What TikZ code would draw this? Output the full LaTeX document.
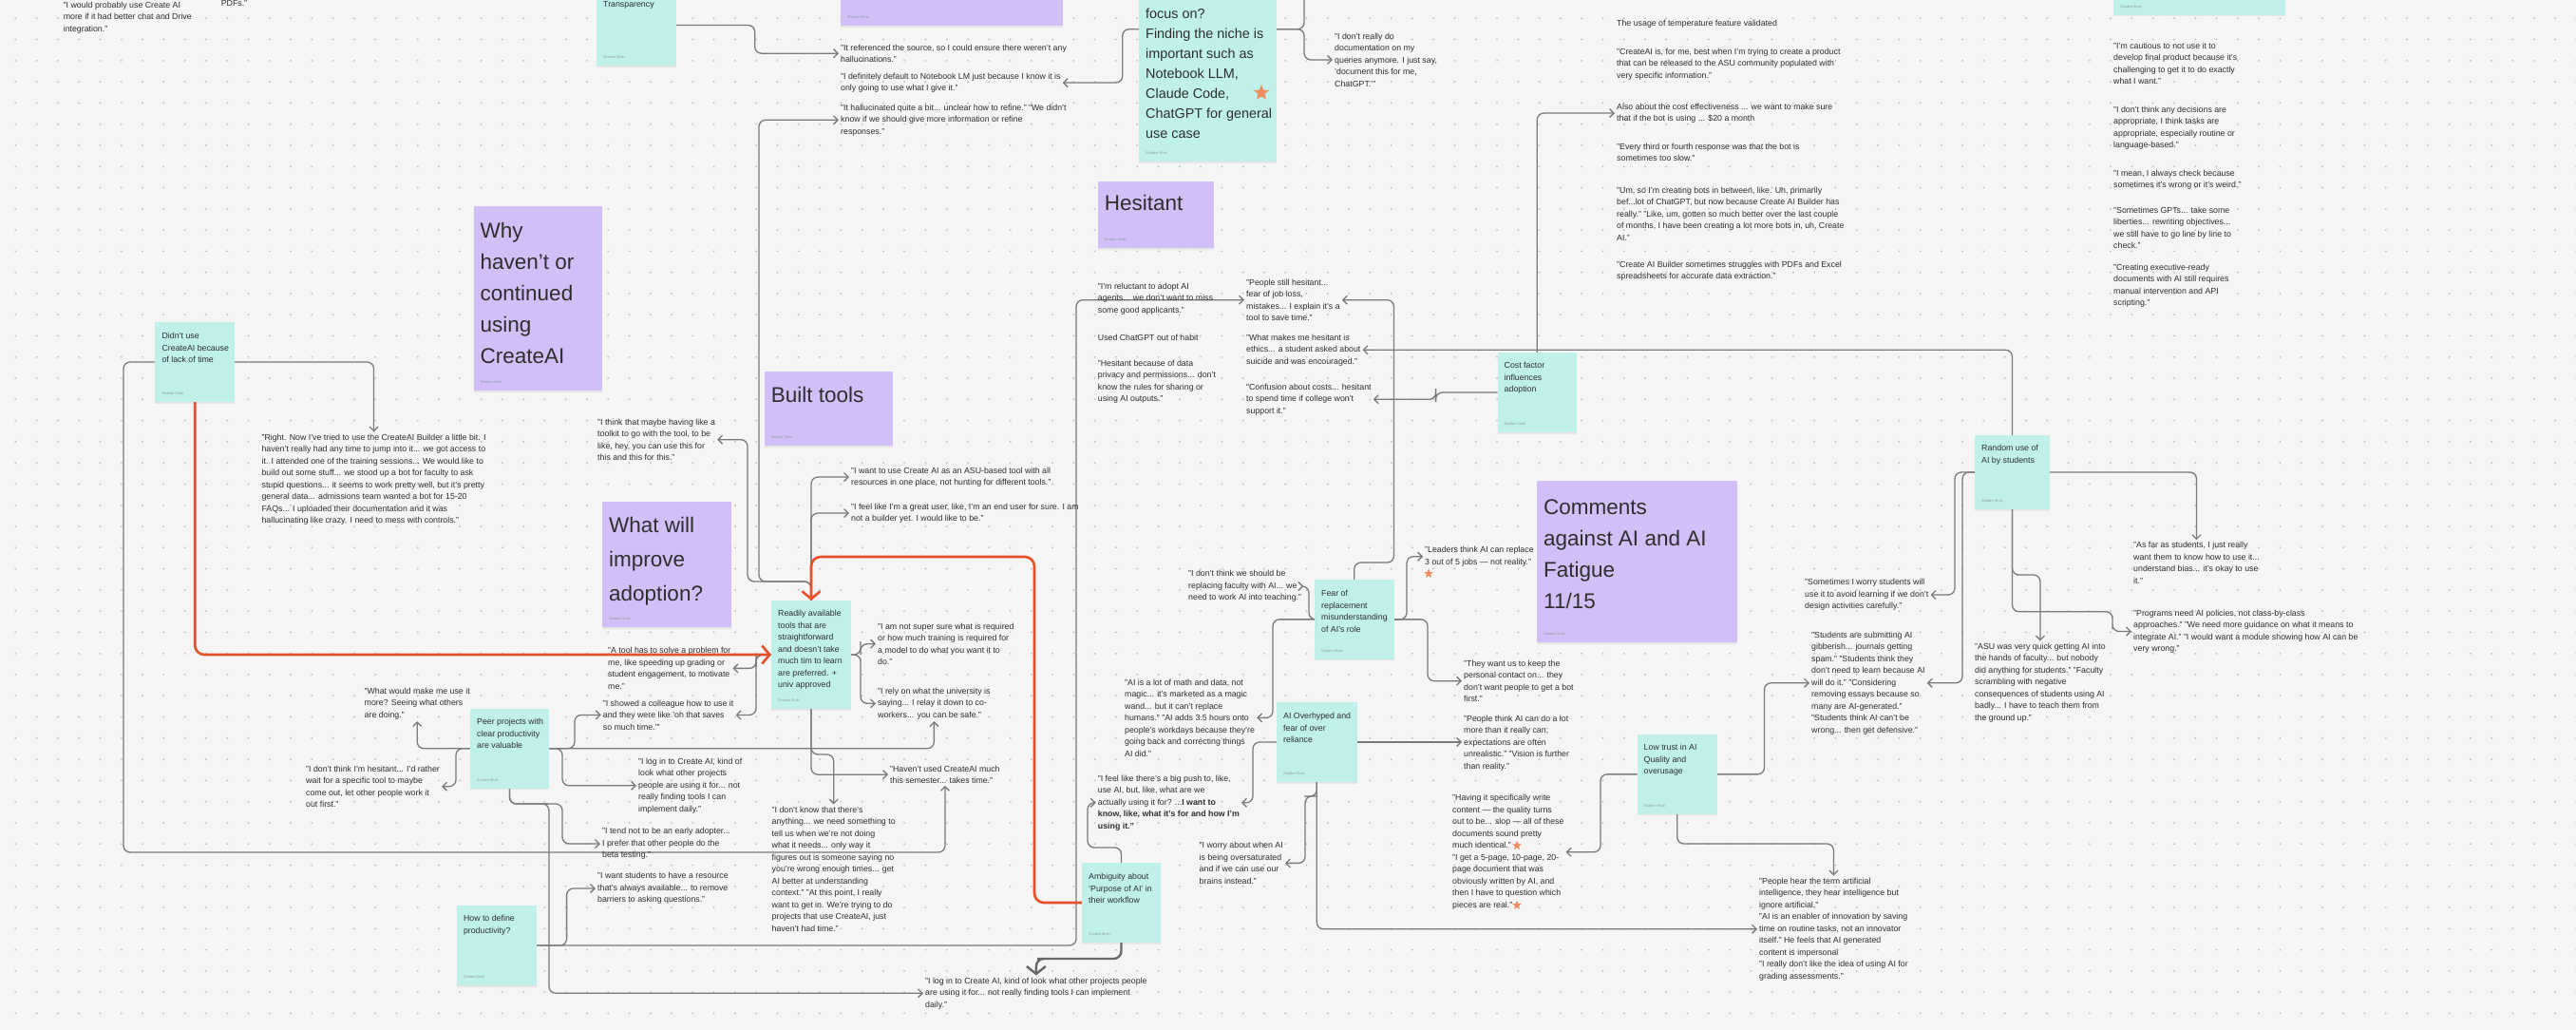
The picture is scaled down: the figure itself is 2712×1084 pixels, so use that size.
\documentclass[tikz,border=0pt]{standalone}
\usepackage{fontspec}
\setmainfont{Liberation Sans}
\usetikzlibrary{arrows.meta,shapes.geometric,shadows}
\definecolor{bgc}{HTML}{F5F5F5}
\definecolor{dotc}{HTML}{C4C4C4}
\definecolor{tealc}{HTML}{C0F0EA}
\definecolor{purpc}{HTML}{D2BFF8}
\definecolor{textc}{HTML}{2E2E2E}
\definecolor{sigc}{HTML}{8C9C9A}
\definecolor{linec}{HTML}{7A7A7A}
\definecolor{orangec}{HTML}{E5502A}
\definecolor{starc}{HTML}{EE8C5E}
\pgfdeclarelayer{bg}\pgfdeclarelayer{lines}\pgfsetlayers{bg,lines,main}
\newcommand\qf{\fontsize{8.8}{12.5}\selectfont}
\newcommand\mknote[9]{%
 \node[#2, minimum width=#5pt, minimum height=#6pt, anchor=north west] (#1) at (#3,#4) {};
 \node[#7, anchor=north west] (#1-t) at ([shift={(7,#8)}]#1.north west) {#9};
 \node[sig, anchor=south west] (#1-s) at ([shift={(7,-7)}]#1.south west) {Shailee Shah};}
\begin{document}
\begin{tikzpicture}[x=1pt,y=-1pt,
  tealnote/.style={fill=tealc, draw=none, inner sep=0pt, outer sep=0pt, drop shadow={shadow xshift=0pt, shadow yshift=-1.5pt, opacity=0.12}},
  purpnote/.style={fill=purpc, draw=none, inner sep=0pt, outer sep=0pt, drop shadow={shadow xshift=0pt, shadow yshift=-1.5pt, opacity=0.12}},
  stext/.style={font=\qf, text=textc, align=left, inner sep=0pt},
  bigtext/.style={font=\fontsize{14.4}{21}\selectfont, text=textc, align=left, inner sep=0pt},
  ptitle/.style={font=\fontsize{22.5}{33}\selectfont, text=textc, align=left, inner sep=0pt},
  ptitleb/.style={font=\fontsize{22.5}{36}\selectfont, text=textc, align=left, inner sep=0pt},
  sig/.style={font=\fontsize{3.8}{4.5}\selectfont, text=sigc, inner sep=0pt},
  quote/.style={font=\qf, text=textc, align=left, inner sep=2pt, anchor=north west, xshift=-2pt, yshift=5.5pt},
  conn/.style={draw=linec, line width=1.3pt, rounded corners=7pt, -{Straight Barb[length=4.5pt,width=9pt]}},
  hot/.style={draw=orangec, line width=2.6pt, rounded corners=10pt, -{Straight Barb[length=8pt,width=19pt]}},
  heavy/.style={draw=linec!85!black, line width=2.4pt, rounded corners=8pt, -{Straight Barb[length=8pt,width=20pt]}},
  starmark/.style={star, star points=5, star point ratio=2.3, fill=starc, draw=none, inner sep=0pt},
]
\useasboundingbox (0,0) rectangle (2712,1084);
\begin{pgfonlayer}{bg}
\fill[bgc] (0,0) rectangle (2712,1084);
\foreach \i in {0,...,121} {\foreach \j in {0,...,48} {\fill[dotc] ({16.4+22.28*\i},{19.3+22.28*\j}) circle (1.1pt);}}
\end{pgfonlayer}

% ---------- sticky notes ----------
\mknote{Ttransp}{tealnote}{628}{-16}{84}{85}{stext}{17}{Transparency}
\mknote{Ptop}{purpnote}{885}{-40}{234}{67}{stext}{10}{}
\mknote{Tfocus}{tealnote}{1199}{-108.6}{145}{278.6}{bigtext}{117.2}{focus on?\\Finding the niche is\\important such as\\Notebook LLM,\\Claude Code,\\ChatGPT for general\\use case}
\mknote{Tright}{tealnote}{2225}{-40}{181}{55.7}{stext}{10}{}
\mknote{Pwhy}{purpnote}{498.5}{217}{135.5}{194}{ptitle}{16.6}{Why\\haven't or\\continued\\using\\CreateAI}
\mknote{Tdidnt}{tealnote}{163.4}{339}{83.6}{84}{stext}{11}{Didn't use\\CreateAI because\\of lack of time}
\mknote{Pwhat}{purpnote}{634}{528}{136}{132}{ptitleb}{15.6}{What will\\improve\\adoption?}
\mknote{Pbuilt}{purpnote}{804.7}{391}{135.3}{78}{ptitle}{15.6}{Built tools}
\mknote{Readily}{tealnote}{812}{632}{84}{114}{stext}{10}{Readily available\\tools that are\\straightforward\\and doesn't take\\much tim to learn\\are preferred. +\\univ approved}
\mknote{Phes}{purpnote}{1155.7}{191}{122.3}{70}{ptitle}{13.6}{Hesitant}
\mknote{Tcost}{tealnote}{1576.5}{371}{83.5}{84}{stext}{10}{Cost factor\\influences\\adoption}
\mknote{Pcomm}{purpnote}{1618}{506}{211}{170}{ptitle}{19.3}{Comments\\against AI and AI\\Fatigue\\11/15}
\mknote{Tfear}{tealnote}{1384}{610}{83.5}{83.7}{stext}{11}{Fear of\\replacement\\misunderstanding\\of AI's role}
\mknote{Trandom}{tealnote}{2079}{458}{79}{78}{stext}{10}{Random use of\\AI by students}
\mknote{Tpeer}{tealnote}{495}{745.7}{83}{84}{stext}{10.4}{Peer projects with\\clear productivity\\are valuable}
\mknote{Thowdef}{tealnote}{480.8}{953}{84.2}{84}{stext}{10}{How to define\\productivity?}
\mknote{Tambig}{tealnote}{1139}{908}{83}{84}{stext}{11}{Ambiguity about\\`Purpose of AI' in\\their workflow}
\mknote{Toverh}{tealnote}{1344}{739}{84.6}{84}{stext}{11}{AI Overhyped and\\fear of over\\reliance}
\mknote{Tlow}{tealnote}{1723.5}{773}{84.5}{83.7}{stext}{10}{Low trust in AI\\Quality and\\overusage}

% ---------- quotes ----------
\node[quote] (Qtop1) at (66.6,5) {"I would probably use Create AI\\more if it had better chat and Drive\\integration."};
\node[quote] (Qpdfs) at (232.6,4) {PDFs."};
\node[quote] (Qref) at (885,50) {"It referenced the source, so I could ensure there weren't any\\hallucinations."};
\node[quote] (Qdef) at (885,80) {"I definitely default to Notebook LM just because I know it is\\only going to use what I give it."};
\node[quote] (Qhal) at (885,113) {"It hallucinated quite a bit... unclear how to refine." "We didn't\\know if we should give more information or refine\\responses."};
\node[quote] (Qdoc) at (1405,38) {"I don't really do\\documentation on my\\queries anymore. I just say,\\'document this for me,\\ChatGPT.'"};
\node[quote] (Qtemp) at (1702,24.7) {The usage of temperature feature validated};
\node[quote] (Qprod) at (1702,54) {"CreateAI is, for me, best when I'm trying to create a product\\that can be released to the ASU community populated with\\very specific information."};
\node[quote] (Qcosteff) at (1702,112) {Also about the cost effectiveness ... we want to make sure\\that if the bot is using ... \$20 a month};
\node[quote] (Qslow) at (1702,154) {"Every third or fourth response was that the bot is\\sometimes too slow."};
\node[quote] (Qbots) at (1702,200) {"Um, so I'm creating bots in between, like. Uh, primarily\\bef...lot of ChatGPT, but now because Create AI Builder has\\really." "Like, um, gotten so much better over the last couple\\of months, I have been creating a lot more bots in, uh, Create\\AI."};
\node[quote] (Qpdf) at (1702,278) {"Create AI Builder sometimes struggles with PDFs and Excel\\spreadsheets for accurate data extraction."};
\node[quote] (Qcaut) at (2225,48) {"I'm cautious to not use it to\\develop final product because it's\\challenging to get it to do exactly\\what I want."};
\node[quote] (Qdec) at (2225,115) {"I don't think any decisions are\\appropriate, I think tasks are\\appropriate, especially routine or\\language-based."};
\node[quote] (Qcheck) at (2225,182) {"I mean, I always check because\\sometimes it's wrong or it's weird."};
\node[quote] (Qlib) at (2225,221) {"Sometimes GPTs... take some\\liberties... rewriting objectives...\\we still have to go line by line to\\check."};
\node[quote] (Qexec) at (2225,281) {"Creating executive-ready\\documents with AI still requires\\manual intervention and API\\scripting."};
\node[quote] (Qright) at (275.4,460) {"Right. Now I've tried to use the CreateAI Builder a little bit. I\\haven't really had any time to jump into it... we got access to\\it. I attended one of the training sessions... We would like to\\build out some stuff... we stood up a bot for faculty to ask\\stupid questions... it seems to work pretty well, but it's pretty\\general data... admissions team wanted a bot for 15-20\\FAQs... I uploaded their documentation and it was\\hallucinating like crazy. I need to mess with controls."};
\node[quote] (Qtoolkit) at (629,444) {"I think that maybe having like a\\toolkit to go with the tool, to be\\like, hey, you can use this for\\this and this for this."};
\node[quote] (Qasu) at (896,495) {"I want to use Create AI as an ASU-based tool with all\\resources in one place, not hunting for different tools."};
\node[quote] (Quser) at (896,533) {"I feel like I'm a great user, like, I'm an end user for sure. I am\\not a builder yet. I would like to be."};
\node[quote] (Qtool) at (640,684.7) {"A tool has to solve a problem for\\me, like speeding up grading or\\student engagement, to motivate\\me."};
\node[quote] (Qnotsure) at (924,659) {"I am not super sure what is required\\or how much training is required for\\a model to do what you want it to\\do."};
\node[quote] (Qrely) at (924,727) {"I rely on what the university is\\saying... I relay it down to co-\\workers... you can be safe."};
\node[quote] (Qshowed) at (634.7,740) {"I showed a colleague how to use it\\and they were like 'oh that saves\\so much time.'"};
\node[quote] (Qwhatwould) at (383.5,727) {"What would make me use it\\more? Seeing what others\\are doing."};
\node[quote] (Qnothes) at (322,809) {"I don't think I'm hesitant... I'd rather\\wait for a specific tool to maybe\\come out, let other people work it\\out first."};
\node[quote] (Qlogin1) at (672,801) {"I log in to Create AI, kind of\\look what other projects\\people are using it for... not\\really finding tools I can\\implement daily."};
\node[quote] (Qtend) at (634,874.7) {"I tend not to be an early adopter...\\I prefer that other people do the\\beta testing."};
\node[quote] (Qwantstud) at (629,921.7) {"I want students to have a resource\\that's always available... to remove\\barriers to asking questions."};
\node[quote] (Qhaven) at (937,809) {"Haven't used CreateAI much\\this semester... takes time."};
\node[quote] (Qidk) at (812.5,852) {"I don't know that there's\\anything... we need something to\\tell us when we're not doing\\what it needs... only way it\\figures out is someone saying no\\you're wrong enough times... get\\AI better at understanding\\context." "At this point, I really\\want to get in. We're trying to do\\projects that use CreateAI, just\\haven't had time."};
\node[quote] (Qlogin2) at (974,1032) {"I log in to Create AI, kind of look what other projects people\\are using it for... not really finding tools I can implement\\daily."};
\node[quote] (Qreluct) at (1155.7,301) {"I'm reluctant to adopt AI\\agents... we don't want to miss\\some good applicants."};
\node[quote] (Qhabit) at (1155.7,355) {Used ChatGPT out of habit};
\node[quote] (Qpriv) at (1155.7,382) {"Hesitant because of data\\privacy and permissions... don't\\know the rules for sharing or\\using AI outputs."};
\node[quote] (Qstill) at (1312,297) {"People still hesitant...\\fear of job loss,\\mistakes... I explain it's a\\tool to save time."};
\node[quote] (Qethics) at (1312,355) {"What makes me hesitant is\\ethics... a student asked about\\suicide and was encouraged."};
\node[quote] (Qconf) at (1312,407) {"Confusion about costs... hesitant\\to spend time if college won't\\support it."};
\node[quote] (Qnotrepl) at (1251,603.7) {"I don't think we should be\\replacing faculty with AI... we\\need to work AI into teaching."};
\node[quote] (Qmath) at (1184,718) {"AI is a lot of math and data, not\\magic... it's marketed as a magic\\wand... but it can't replace\\humans." "AI adds 3.5 hours onto\\people's workdays because they're\\going back and correcting things\\AI did."};
\node[quote] (Qpush) at (1155.7,819) {"I feel like there's a big push to, like,\\use AI, but, like, what are we\\actually using it for? ...\textbf{I want to}\\\textbf{know, like, what it's for and how I'm}\\\textbf{using it."}};
\node[quote] (Qworry) at (1262.5,889.7) {"I worry about when AI\\is being oversaturated\\and if we can use our\\brains instead."};
\node[quote] (Qleaders) at (1500,578.7) {"Leaders think AI can replace\\3 out of 5 jobs — not reality."};
\node[quote] (Qwant) at (1541,698) {"They want us to keep the\\personal contact on... they\\don't want people to get a bot\\first."};
\node[quote] (Qpeople) at (1541,756) {"People think AI can do a lot\\more than it really can;\\expectations are often\\unrealistic." "Vision is further\\than reality."};
\node[quote] (Qhaving) at (1529,839.7) {"Having it specifically write\\content — the quality turns\\out to be... slop — all of these\\documents sound pretty\\much identical."\\"I get a 5-page, 10-page, 20-\\page document that was\\obviously written by AI, and\\then I have to question which\\pieces are real."};
\node[quote] (Qhear) at (1852,927) {"People hear the term artificial\\intelligence, they hear intelligence but\\ignore artificial."\\"AI is an enabler of innovation by saving\\time on routine tasks, not an innovator\\itself." He feels that AI generated\\content is impersonal\\"I really don't like the idea of using AI for\\grading assessments."};
\node[quote] (Qsometimes) at (1900,612.7) {"Sometimes I worry students will\\use it to avoid learning if we don't\\design activities carefully."};
\node[quote] (Qsubmit) at (1907,668) {"Students are submitting AI\\gibberish... journals getting\\spam." "Students think they\\don't need to learn because AI\\will do it." "Considering\\removing essays because so\\many are AI-generated."\\"Students think AI can't be\\wrong... then get defensive."};
\node[quote] (Qasfar) at (2246,573.7) {"As far as students, I just really\\want them to know how to use it...\\understand bias... it's okay to use\\it."};
\node[quote] (Qprograms) at (2246,645) {"Programs need AI policies, not class-by-class\\approaches." "We need more guidance on what it means to\\integrate AI." "I would want a module showing how AI can be\\very wrong."};
\node[quote] (Qasuquick) at (2079,680) {"ASU was very quick getting AI into\\the hands of faculty... but nobody\\did anything for students." "Faculty\\scrambling with negative\\consequences of students using AI\\badly... I have to teach them from\\the ground up."};

% ---------- stars ----------
\node[starmark, minimum size=17pt] (star1) at (1328,97.7) {};
\node[starmark, minimum size=10pt] (star2) at (1504,603.7) {};
\node[starmark, minimum size=10pt] (star3) at (1597,890) {};
\node[starmark, minimum size=10pt] (star4) at (1597,952.7) {};

% ---------- connectors ----------
\begin{pgfonlayer}{lines}
\coordinate (offtop) at (1373,-30);
\draw[conn] (Ttransp.east) -| (794.7,40) |- (Qref.west);
\draw[conn] (Tfocus.west) -| (1181.7,60) |- (Qdef.east);
\draw[conn,-] (Tfocus.east) -| (offtop);
\draw[conn] (Tfocus.east) -| (1373,45) |- (Qdoc.west);
\draw[conn] (Readily.north) |- (820,612) -| (799,300) |- (Qhal.west);
\draw[conn] (Readily.north) |- (820,612) -| (787,520) |- (Qtoolkit.east);
\draw[conn] (Readily.north) |- (Qasu.west);
\draw[conn] (Readily.north) |- (Quser.west);
\draw[conn] (Tdidnt.east) -| (Qright.north);
\draw[conn] (Tdidnt.west) -| (130,897) -| (Qhaven.south);
\draw[conn] (Readily.west) -| (796,695) |- (Qtool.east);
\draw[conn] (Readily.west) -| (796,720) |- (Qshowed.east);
\draw[conn] (Readily.east) -| (906,682) |- (Qnotsure.west);
\draw[conn] (Readily.east) -| (906,700) |- (Qrely.west);
\draw[conn] (Readily.south) -- (854,794) -| (Qidk.north);
\draw[conn] (Readily.south) |- (Qhaven.west);
\draw[conn] (Tpeer.west) -| (Qwhatwould.south);
\draw[conn] (Tpeer.west) -| (480,805) |- (Qnothes.east);
\draw[conn] (Tpeer.east) -| (605,770) |- (Qshowed.west);
\draw[conn] (Tpeer.east) -| (Qrely.south);
\draw[conn] (Tpeer.east) -| (592,805) |- (Qlogin1.west);
\draw[conn] (Tpeer.south) |- (570,846) -| (592,870) |- (Qtend.west);
\draw[conn] (Tpeer.south) |- (570,846) -| (578,950) |- (Qlogin2.west);
\draw[conn] (Thowdef.east) -| (596.6,960) |- (Qwantstud.west);
\draw[conn] (Thowdef.east) -| (1133,600) |- (Qstill.west);
\draw[heavy] (Tambig.south) |- (1100,1009) -| (Qlogin2.north);
\draw[conn] (Tambig.north) |- (1160,892) -| (1145,860) |- (Qpush.west);
\draw[conn] (Toverh.west) -| (1319,820) |- (Qpush.east);
\draw[conn] (Tfear.west) -| (1340,700) |- (Qmath.east);
\draw[conn] (Tfear.west) -| (1378,630) |- (Qnotrepl.east);
\draw[conn] (Tfear.north) |- (1450,592) -| (1467.5,400) |- (Qstill.east);
\draw[conn] (Tfear.east) -| (1481,620) |- (Qleaders.west);
\draw[conn] (Tfear.east) -| (1503,690) |- (Qwant.west);
\draw[conn] (Toverh.east) -- (Toverh.east -| Qpeople.west);
\draw[conn] (Toverh.south) |- (1380,838) -| (1374,870) |- (Qworry.east);
\draw[conn] (Toverh.south) |- (Qhear.west);
\draw[conn] (Tlow.west) -| (1685,850) |- (Qhaving.east);
\draw[conn] (Tlow.south) |- (1900,888) -| (Qhear.north);
\draw[conn] (Tlow.east) -| (1857.5,760) |- (Qsubmit.west);
\draw[conn] (Tcost.north) |- (Qcosteff.west);
\draw[conn] (Tcost.west) -| (1511.6,416) |- (Qconf.east);
\draw[conn] (Trandom.north) |- (Qethics.east);
\draw[conn] (Trandom.east) -| (Qasfar.north);
\draw[conn] (Trandom.west) -| (2058,560) |- (Qsometimes.east);
\draw[conn] (Trandom.west) -| (2066,600) |- (Qsubmit.east);
\draw[conn] (Trandom.south) |- (2130,605) -| (Qasuquick.north);
\draw[conn] (Trandom.south) |- (2200,643.7) -| (2224,655) |- (Qprograms.west);
\draw[hot] (Tdidnt.south) |- (Readily.west);
\draw[hot] (Tambig.west) -| (1089,586) -| (Readily.north);
\end{pgfonlayer}
\end{tikzpicture}
\end{document}
